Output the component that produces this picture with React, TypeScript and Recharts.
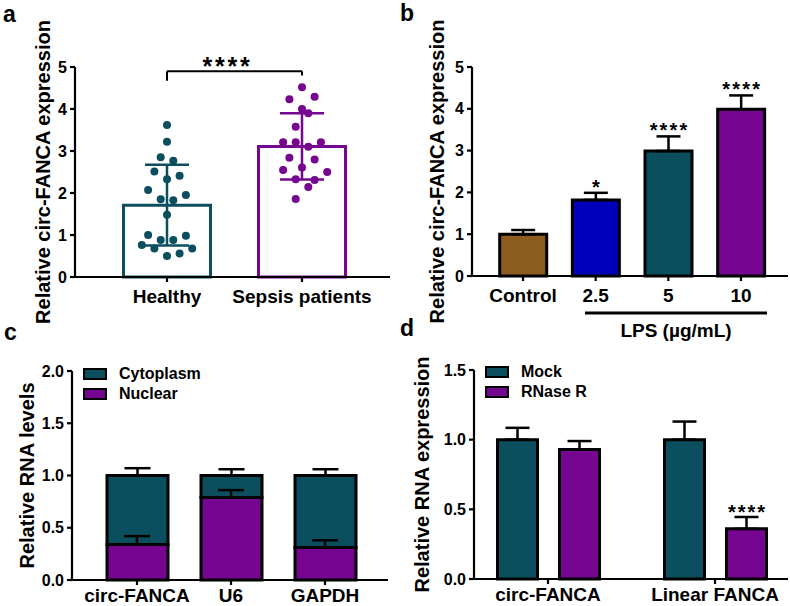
import React from 'react';
import {
  ComposedChart,
  Bar,
  XAxis,
  YAxis,
  ErrorBar,
  Scatter,
  Cell,
  ReferenceLine,
  LabelList,
  Legend,
} from 'recharts';

const FONT = '"Liberation Sans", Arial, Helvetica, sans-serif';
const TEAL = '#0b4e5d';
const PURPLE = '#76068f';
const BROWN = '#8d5d20';
const BLUE = '#0000ba';
const BLACK = '#000000';

// ---------- Panel a ----------
const groupsA = ['Healthy', 'Sepsis patients'];
const meanA = [1.71, 3.11];
const sdA = [0.96, 0.79];
const healthyValues = [3.62, 3.22, 2.85, 2.77, 2.51, 2.41, 2.33, 2.07, 1.95, 1.85, 1.83, 1.48, 1.0, 0.98, 0.88, 0.88, 0.76, 0.68, 0.68, 0.5, 0.56];
const healthySlots = [0, 0, -1, 1, -2, 2, 0, -3, 3, -1, 1, 0, -3, 3, -1, 1, -4, -2, 4, 0, 2];
const sepsisValues = [4.52, 4.23, 4.29, 4.0, 3.9, 3.58, 3.21, 3.21, 3.21, 3.1, 2.84, 2.8, 2.55, 2.61, 2.5, 2.33, 2.31, 2.14, 1.86];
const sepsisSlots = [0, -2, 2, 0, 1, -1, -3, -1, 3, 1, -2, 2, -3, 0, 4, -1, 2, 1, -1];
const ticksA = [0, 1, 2, 3, 4, 5];
const sigA = '****';

// ---------- Panel b ----------
const doseLabels = ['Control', '2.5', '5', '10'];
const doseMeans = [1.0, 1.82, 2.99, 3.99];
const doseErr = [0.1, 0.17, 0.35, 0.33];
const doseSig = ['', '*', '****', '****'];
const doseColors = [BROWN, BLUE, TEAL, PURPLE];
const ticksB = [0, 1, 2, 3, 4, 5];

// ---------- Panel c ----------
const fractionTargets = ['circ-FANCA', 'U6', 'GAPDH'];
const fractionNames = ['Cytoplasm', 'Nuclear'];
const nuclearVals = [0.34, 0.79, 0.31];
const cytoVals = [0.66, 0.21, 0.69];
const nuclearErr = [0.08, 0.07, 0.07];
const cytoErr = [0.07, 0.06, 0.06];
const ticksC = [0, 0.5, 1.0, 1.5, 2.0];

// ---------- Panel d ----------
const rnaseTargets = ['circ-FANCA', 'Linear FANCA'];
const treatNames = ['Mock', 'RNase R'];
const mockVals = [1.0, 1.0];
const mockErr = [0.085, 0.13];
const rnaseVals = [0.93, 0.36];
const rnaseErr = [0.06, 0.085];
const rnaseSig = ['', '****'];
const ticksD = [0, 0.5, 1.0, 1.5];

// ---------- tables ----------
const dataA = groupsA.map((name, i) => ({
  name,
  mean: meanA[i],
  errH: i === 0 ? [sdA[i], sdA[i]] : null,
  errS: i === 1 ? [sdA[i], sdA[i]] : null,
}));
const healthyData = healthyValues.map((v, i) => ({ name: groupsA[0], v, slot: healthySlots[i] }));
const sepsisData = sepsisValues.map((v, i) => ({ name: groupsA[1], v, slot: sepsisSlots[i] }));

const dataB = doseLabels.map((name, i) => ({
  name,
  mean: doseMeans[i],
  range: [0, doseErr[i]],
  err: doseErr[i],
  sig: doseSig[i],
}));

const dataC = fractionTargets.map((name, i) => ({
  name,
  nuclear: nuclearVals[i],
  cyto: cytoVals[i],
  nucRange: [0, nuclearErr[i]],
  cytoRange: [0, cytoErr[i]],
}));

const dataD = rnaseTargets.map((name, i) => ({
  name,
  mock: mockVals[i],
  mockRange: [0, mockErr[i]],
  rnase: rnaseVals[i],
  rnaseRange: [0, rnaseErr[i]],
  rnaseTop: rnaseErr[i],
  sig: rnaseSig[i],
}));

// ---------- styles ----------
const axisLine = { stroke: BLACK, strokeWidth: 2.2 };
const tickNum = { fill: BLACK, fontSize: 16, fontWeight: 700, fontFamily: FONT };
const tickCat = { fill: BLACK, fontSize: 19, fontWeight: 700, fontFamily: FONT };
const SLOT = 6.3;

const dotShape = (color: string) => (p: any) => (
  <circle cx={p.cx + (p.payload?.slot ?? 0) * SLOT} cy={p.cy} r={4} fill={color} />
);

const starLabel = (fontSize: number, shift: number, spacing: number) => (p: any) => {
  if (!p.value) return null;
  const vb = p.viewBox || p;
  const x = Number(vb.x) + Number(vb.width) / 2;
  const top = Math.min(Number(vb.y), Number(vb.y) + Number(vb.height));
  return (
    <text
      x={x + spacing / 2}
      y={top + shift}
      textAnchor="middle"
      fontSize={fontSize}
      fontWeight={700}
      fontFamily={FONT}
      letterSpacing={spacing}
      fill={BLACK}
    >
      {p.value}
    </text>
  );
};

const bracketLabel = (p: any) => {
  const vb = p.viewBox || {};
  const x = Number(vb.x) + Number(vb.width || 0) / 2 - 7;
  return (
    <text x={x} y={Number(vb.y) + 4} textAnchor="middle" fontSize={25} fontWeight={700} fontFamily={FONT} letterSpacing={2.8} fill={BLACK}>
      {sigA}
    </text>
  );
};

const legendContent = (order: string[]) => (props: any) => {
  const items = [...(props.payload || [])]
    .filter((it: any) => order.indexOf(it.value) >= 0)
    .sort((a: any, b: any) => order.indexOf(a.value) - order.indexOf(b.value));
  return (
    <div style={{ fontFamily: FONT, fontWeight: 700, fontSize: 16, color: BLACK }}>
      {items.map((it: any) => (
        <div key={it.value} style={{ display: 'flex', alignItems: 'center', height: 20 }}>
          <span
            style={{
              display: 'inline-block',
              width: 24,
              height: 12,
              boxSizing: 'border-box',
              background: it.color,
              border: '2.5px solid #000',
            }}
          />
          <span style={{ marginLeft: 12, lineHeight: '20px' }}>{it.value}</span>
        </div>
      ))}
    </div>
  );
};

const fmt1 = (v: number) => v.toFixed(1);

function PanelA() {
  return (
    <ComposedChart width={395} height={320} data={dataA} margin={{ top: 67, right: 5, bottom: 17, left: 0 }}>
      <XAxis
        dataKey="name"
        allowDuplicatedCategory={false}
        padding={{ left: 24.5, right: 20.5 }}
        axisLine={axisLine}
        tickLine={axisLine}
        tickSize={5}
        tickMargin={8}
        height={26}
        tick={tickCat}
        interval={0}
      />
      <YAxis
        type="number"
        domain={[0, 5]}
        ticks={ticksA}
        width={75}
        axisLine={axisLine}
        tickLine={axisLine}
        tickSize={5}
        tickMargin={3}
        tick={tickNum}
        interval={0}
      />
      <Bar dataKey="mean" barSize={87} fill="#ffffff" strokeWidth={3} isAnimationActive={false}>
        {dataA.map((d, i) => (
          <Cell key={d.name} stroke={i === 0 ? TEAL : PURPLE} fill="#ffffff" />
        ))}
        <ErrorBar dataKey="errH" width={22} stroke={TEAL} strokeWidth={2.5} />
        <ErrorBar dataKey="errS" width={22} stroke={PURPLE} strokeWidth={2.5} />
      </Bar>
      <Scatter data={healthyData} dataKey="v" shape={dotShape(TEAL)} isAnimationActive={false} legendType="none" />
      <Scatter data={sepsisData} dataKey="v" shape={dotShape(PURPLE)} isAnimationActive={false} legendType="none" />
      <ReferenceLine
        segment={[
          { x: groupsA[0], y: 4.67 },
          { x: groupsA[0], y: 4.9 },
        ]}
        stroke={BLACK}
        strokeWidth={2}
      />
      <ReferenceLine
        segment={[
          { x: groupsA[1], y: 4.8 },
          { x: groupsA[1], y: 4.9 },
        ]}
        stroke={BLACK}
        strokeWidth={2}
      />
      <ReferenceLine
        segment={[
          { x: groupsA[0], y: 4.9 },
          { x: groupsA[1], y: 4.9 },
        ]}
        stroke={BLACK}
        strokeWidth={2}
        label={{ content: bracketLabel }}
      />
    </ComposedChart>
  );
}

function PanelB() {
  return (
    <ComposedChart width={395} height={320} data={dataB} margin={{ top: 67, right: 2, bottom: 18, left: 0 }}>
      <XAxis
        dataKey="name"
        padding={{ left: 14.7, right: 10.7 }}
        axisLine={axisLine}
        tickLine={axisLine}
        tickSize={5}
        tickMargin={8}
        height={26}
        tick={tickCat}
        interval={0}
      />
      <YAxis
        type="number"
        domain={[0, 5]}
        ticks={ticksB}
        width={77}
        axisLine={axisLine}
        tickLine={axisLine}
        tickSize={5}
        tickMargin={3}
        tick={tickNum}
        interval={0}
      />
      <Bar dataKey="mean" stackId="s" barSize={47} stroke={BLACK} strokeWidth={3} isAnimationActive={false}>
        {dataB.map((d, i) => (
          <Cell key={d.name} fill={doseColors[i]} />
        ))}
        <ErrorBar dataKey="range" width={12} stroke={BLACK} strokeWidth={2.5} />
      </Bar>
      <Bar dataKey="err" stackId="s" barSize={47} fill="none" stroke="none" isAnimationActive={false} legendType="none">
        <LabelList dataKey="sig" content={starLabel(20, 1, 2.2)} />
      </Bar>
    </ComposedChart>
  );
}

function PanelC() {
  return (
    <ComposedChart width={395} height={320} data={dataC} margin={{ top: 68, right: 7, bottom: 17, left: 0 }}>
      <XAxis
        dataKey="name"
        padding={{ left: 18, right: 16 }}
        axisLine={axisLine}
        tickLine={axisLine}
        tickSize={5}
        tickMargin={4}
        height={26}
        tick={tickCat}
        interval={0}
      />
      <YAxis
        type="number"
        domain={[0, 2]}
        ticks={ticksC}
        tickFormatter={fmt1}
        width={72}
        axisLine={axisLine}
        tickLine={axisLine}
        tickSize={5}
        tickMargin={3}
        tick={tickNum}
        interval={0}
      />
      <Bar dataKey="nuclear" name={fractionNames[1]} stackId="c" barSize={61} fill={PURPLE} stroke={BLACK} strokeWidth={3} isAnimationActive={false} />
      <Bar dataKey="cyto" name={fractionNames[0]} stackId="c" barSize={61} fill={TEAL} stroke={BLACK} strokeWidth={3} isAnimationActive={false}>
        <ErrorBar dataKey="cytoRange" width={13} stroke={BLACK} strokeWidth={2.5} />
      </Bar>
      <Scatter dataKey="nuclear" shape={() => <g />} isAnimationActive={false} legendType="none">
        <ErrorBar dataKey="nucRange" direction="y" width={13} stroke={BLACK} strokeWidth={2.5} />
      </Scatter>
      <Legend
        layout="vertical"
        align="center"
        verticalAlign="middle"
        content={legendContent(fractionNames)}
        wrapperStyle={{ left: 83, top: 61, width: 200, height: 40 }}
      />
    </ComposedChart>
  );
}

function PanelD() {
  return (
    <ComposedChart
      width={395}
      height={320}
      data={dataD}
      barGap={22}
      margin={{ top: 67, right: 2, bottom: 18, left: 0 }}
    >
      <XAxis
        dataKey="name"
        padding={{ left: -9.5, right: -10.5 }}
        axisLine={axisLine}
        tickLine={axisLine}
        tickSize={5}
        tickMargin={4}
        height={26}
        tick={tickCat}
        interval={0}
      />
      <YAxis
        type="number"
        domain={[0, 1.5]}
        ticks={ticksD}
        tickFormatter={fmt1}
        width={79}
        axisLine={axisLine}
        tickLine={axisLine}
        tickSize={5}
        tickMargin={3}
        tick={tickNum}
        interval={0}
      />
      <Bar dataKey="mock" name={treatNames[0]} stackId="m" barSize={40} fill={TEAL} stroke={BLACK} strokeWidth={3} isAnimationActive={false}>
        <ErrorBar dataKey="mockRange" width={12} stroke={BLACK} strokeWidth={2.5} />
      </Bar>
      <Bar dataKey="rnase" name={treatNames[1]} stackId="r" barSize={40} fill={PURPLE} stroke={BLACK} strokeWidth={3} isAnimationActive={false}>
        <ErrorBar dataKey="rnaseRange" width={12} stroke={BLACK} strokeWidth={2.5} />
      </Bar>
      <Bar dataKey="rnaseTop" stackId="r" barSize={40} fill="none" stroke="none" isAnimationActive={false} legendType="none">
        <LabelList dataKey="sig" content={starLabel(20, 2.5, 2)} />
      </Bar>
      <Legend
        layout="vertical"
        align="center"
        verticalAlign="middle"
        content={legendContent(treatNames)}
        wrapperStyle={{ left: 90, top: 59, width: 200, height: 40 }}
      />
    </ComposedChart>
  );
}

const titleStyle = { fontFamily: FONT, fontWeight: 700, fill: BLACK } as const;

function YTitle({ cx, cy, text, size }: { cx: number; cy: number; text: string; size: number }) {
  return (
    <text transform={`translate(${cx},${cy}) rotate(-90)`} textAnchor="middle" dy="0.3em" fontSize={size} {...titleStyle}>
      {text}
    </text>
  );
}

export default function App() {
  return (
    <div
      style={{
        position: 'absolute',
        left: 0,
        top: 0,
        width: 790,
        height: 606,
        background: '#ffffff',
        overflow: 'hidden',
      }}
    >
      <div style={{ position: 'absolute', left: 0, top: 0 }}>
        <PanelA />
      </div>
      <div style={{ position: 'absolute', left: 395, top: 0 }}>
        <PanelB />
      </div>
      <div style={{ position: 'absolute', left: 0, top: 303 }}>
        <PanelC />
      </div>
      <div style={{ position: 'absolute', left: 395, top: 303 }}>
        <PanelD />
      </div>
      <svg width={790} height={606} style={{ position: 'absolute', left: 0, top: 0, pointerEvents: 'none' }}>
        <text x={3} y={22} fontSize={23} {...titleStyle}>a</text>
        <text x={400} y={21} fontSize={23} {...titleStyle}>b</text>
        <text x={4} y={340} fontSize={23} {...titleStyle}>c</text>
        <text x={400} y={336} fontSize={23} {...titleStyle}>d</text>
        <YTitle cx={44} cy={172} text="Relative circ-FANCA expression" size={20} />
        <YTitle cx={438} cy={171.5} text="Relative circ-FANCA expression" size={20} />
        <YTitle cx={28} cy={475.5} text="Relative RNA levels" size={20} />
        <YTitle cx={423} cy={474.5} text="Relative RNA expression" size={20} />
        <line x1={585} x2={767} y1={313} y2={313} stroke={BLACK} strokeWidth={3} />
        <text x={676} y={337} textAnchor="middle" fontSize={19} {...titleStyle}>LPS (µg/mL)</text>
      </svg>
    </div>
  );
}
